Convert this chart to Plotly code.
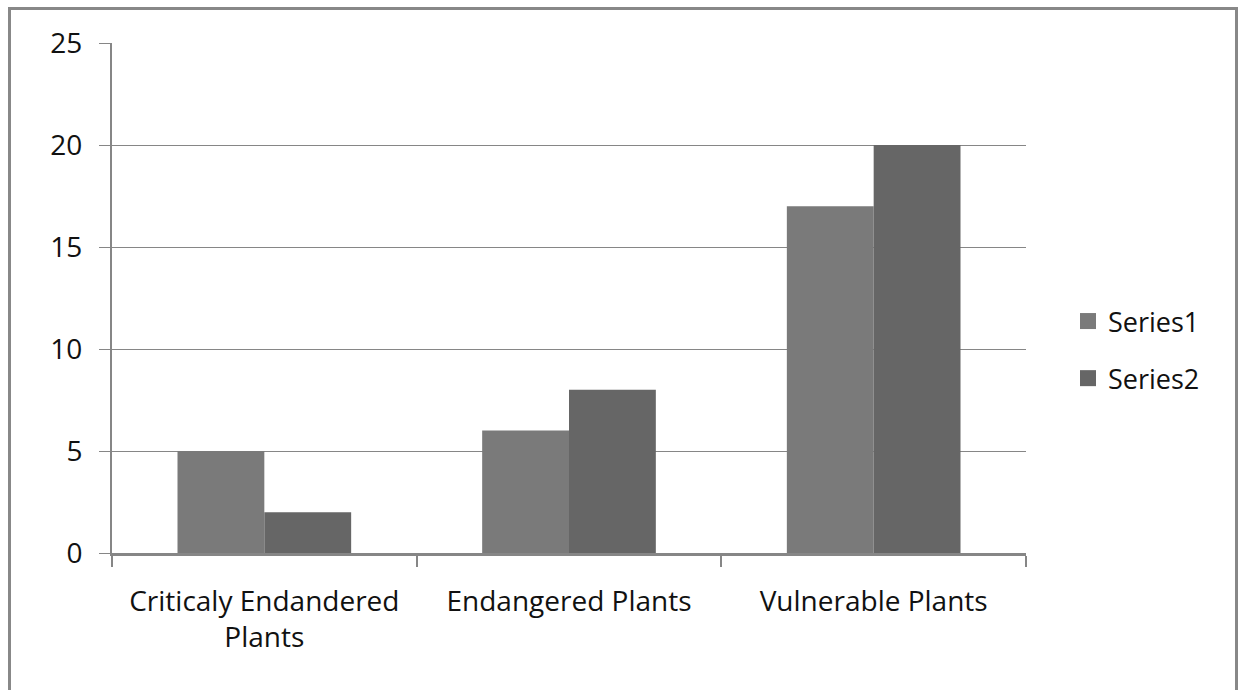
import plotly.graph_objects as go

# Chart data
categories = ["Criticaly Endandered<br>Plants", "Endangered Plants", "Vulnerable Plants"]
series1 = [5, 6, 17]
series2 = [2, 8, 20]
y_ticks = [0, 5, 10, 15, 20, 25]

FONT = "Open Sans"
GRID = "#868686"
C1 = "#7a7a7a"
C2 = "#666666"

W, H = 1242, 690
ML, MR, MT, MB = 112, 216, 43, 137
PW = W - ML - MR
PH = H - MT - MB

fig = go.Figure()
fig.add_trace(go.Bar(x=categories, y=series1, name="Series1", marker=dict(color=C1, line_width=0),
                     showlegend=False))
fig.add_trace(go.Bar(x=categories, y=series2, name="Series2", marker=dict(color=C2, line_width=0),
                     showlegend=False))
# legend entries with larger square swatches
for name, col in (("Series1", C1), ("Series2", C2)):
    fig.add_trace(go.Scatter(x=[None], y=[None], mode="markers", name=name, legendgroup=name,
                             marker=dict(symbol="square", size=18, color=col)))


def px_x(px):
    return (px - ML) / PW


def px_y(py):
    return (H - MB - py) / PH


fig.update_layout(
    width=W, height=H,
    margin=dict(l=ML, r=MR, t=MT, b=MB, pad=0),
    paper_bgcolor="white", plot_bgcolor="white",
    font=dict(family=FONT, size=28, color="#111111"),
    barmode="group", bargap=0.43, bargroupgap=0,
    showlegend=True,
    legend=dict(x=px_x(1068), y=px_y(350), xanchor="left", yanchor="middle",
                font=dict(size=27), itemsizing="trace", tracegroupgap=19,
                bgcolor="rgba(0,0,0,0)"),
    xaxis=dict(type="category", showgrid=False, showline=True, linecolor=GRID, linewidth=3,
               ticks="outside", tickson="boundaries", ticklen=11, tickwidth=2, tickcolor=GRID,
               ticklabelstandoff=21, zeroline=False, fixedrange=True),
    yaxis=dict(range=[0, 25], tickvals=y_ticks, showgrid=True, gridcolor=GRID, gridwidth=1,
               showline=True, linecolor=GRID, linewidth=2, ticks="outside", ticklen=11,
               tickwidth=1, tickcolor=GRID, ticklabelstandoff=11, zeroline=False, fixedrange=True),
    shapes=[dict(type="rect", xref="paper", yref="paper",
                 x0=px_x(9.5), x1=px_x(1236.5), y0=px_y(720), y1=px_y(8.5),
                 line=dict(color="#888888", width=3), fillcolor="rgba(0,0,0,0)", layer="below")],
)

fig.write_html("out.html", config={"displayModeBar": False})
